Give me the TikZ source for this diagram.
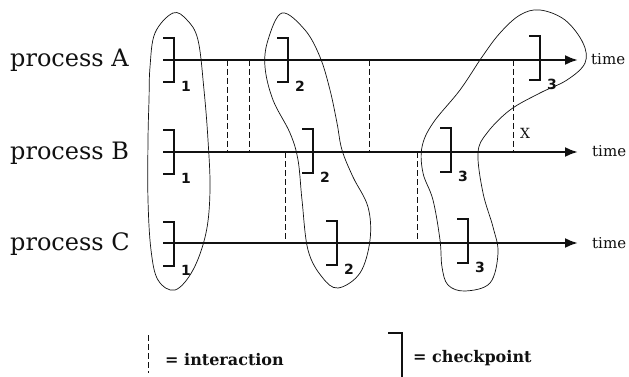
\documentclass[tikz,border=0pt]{standalone}
\usepackage{fontspec}
\setmainfont{DejaVu Serif}
\newfontfamily\digitfont{DejaVu Sans}
\usepackage{tikz}
\usepackage{xcolor}
\usetikzlibrary{arrows.meta,positioning,calc}
\definecolor{ink}{HTML}{111111}
\tikzset{
  procline/.style={draw=ink, line width=2.3pt, -{Latex[length=13pt,width=10pt]}},
  ckpt/.style={draw=ink, line width=1.8pt},
  interact/.style={draw=ink, line width=1pt, dash pattern=on 6pt off 3pt},
  cutline/.style={draw=ink, line width=0.7pt},
  proclabel/.style={font=\fontsize{24}{28}\selectfont, text=ink, inner sep=0pt, anchor=base west},
  timelabel/.style={font=\fontsize{15}{18}\selectfont, text=ink, inner sep=0pt, anchor=base west},
  sublabel/.style={font=\digitfont\bfseries\fontsize{14}{16}\selectfont, text=ink, inner sep=0pt},
  legendtext/.style={font=\bfseries\fontsize{16}{19}\selectfont, text=ink, inner sep=0pt, anchor=base west}
}

\begin{document}
\begin{tikzpicture}[x=1pt,y=-1pt]
        \useasboundingbox (0,0) rectangle (629,377);

        % process lines
        \coordinate (A0) at (163,60);  \coordinate (A1) at (578,60);
        \coordinate (B0) at (163,152); \coordinate (B1) at (578,152);
        \coordinate (C0) at (163,243); \coordinate (C1) at (578,243);
        \draw[procline] (A0) -- (A1);
        \draw[procline] (B0) -- (B1);
        \draw[procline] (C0) -- (C1);
        \node[proclabel] (labA) at (10,67) {process A};
        \node[proclabel] (labB) at (10,159) {process B};
        \node[proclabel] (labC) at (10,250) {process C};
        \node[timelabel] (timeA) at (591,65) {time};
        \node[timelabel] (timeB) at (592,157) {time};
        \node[timelabel] (timeC) at (592,248) {time};

        % checkpoints
        \foreach \name/\x/\y/\n in {a1/174/60/1, a2/288/60/2, a3/540/58/3,
                                    b1/174/152/1, b2/313/151/2, b3/451/150/3,
                                    c1/174/244/1, c2/337/243/2, c3/468/241/3} {
          \coordinate (\name) at (\x,\y);
          \draw[ckpt] ([shift={(-11,-22)}]\name) -- ++(11,0) -- ++(0,44) -- ++(-11,0);
          \node[sublabel] at ([shift={(12,26)}]\name) {\n};
        }

        % interactions
        \draw[interact] (227,0 |- A0) -- (227,0 |- B0);
        \draw[interact] (249,0 |- A0) -- (249,0 |- B0);
        \draw[interact] (369,0 |- A0) -- (369,0 |- B0);
        \draw[interact] (513,0 |- A0) -- (513,0 |- B0);
        \draw[interact] (285,0 |- B0) -- (285,0 |- C0);
        \draw[interact] (417,0 |- B0) -- (417,0 |- C0);
        \node[font=\fontsize{14}{16}\selectfont, text=ink, inner sep=0pt] (lost) at (525,133) {X};

        % consistent cuts
        \draw[cutline] plot[smooth cycle, tension=0.6] coordinates {
          (173,13) (187,20) (198,40) (204,90) (208,140) (210,190)
          (206,233) (193,270) (175,290) (158,280) (151,250) (148,200)
          (148,140) (149,100) (150,67) (155,33)};
        \draw[cutline] plot[smooth cycle, tension=0.6] coordinates {
          (282,13) (305,30) (320,57) (330,90) (337,123) (342,150) (353,177)
          (368,207) (370,240) (360,273) (338,288) (322,277) (308,250)
          (302,200) (298,160) (290,133) (273,100) (265,67) (268,40)};
        \draw[cutline] plot[smooth cycle, tension=0.6] coordinates {
          (540,10) (565,20) (583,43) (585,63) (567,80) (540,93) (510,110)
          (487,133) (478,153) (483,193) (493,227) (498,253) (490,283)
          (465,291) (448,285) (442,267) (440,240) (433,200) (423,173)
          (422,147) (433,123) (460,90) (482,57) (500,33) (520,15)};

        % legend
        \coordinate (legI0) at (148,335); \coordinate (legI1) at (148,373);
        \draw[interact] (legI0) -- (legI1);
        \node[legendtext] (legI) at (165,365) {= interaction};
        \coordinate (legC0) at (388,333); \coordinate (legC1) at (402,333);
        \draw[ckpt] (legC0) -- (legC1) -- ++(0,50);
        \node[legendtext] (legC) at (413,362) {= checkpoint};
      \end{tikzpicture}
\end{document}
